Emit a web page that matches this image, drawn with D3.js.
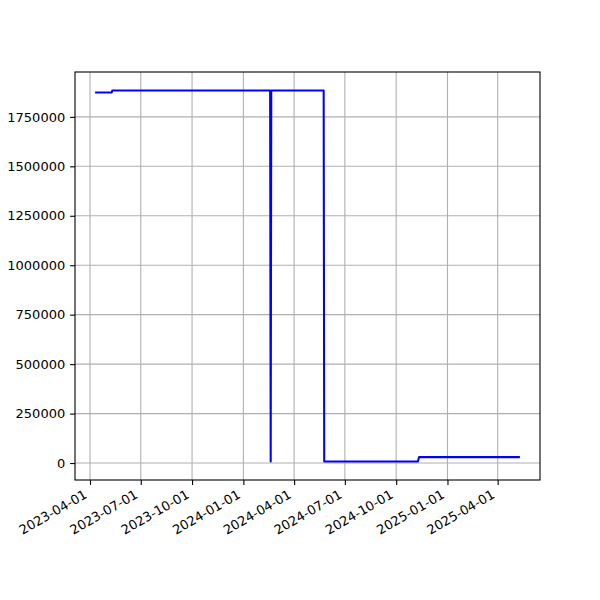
<!DOCTYPE html>
<html><head><meta charset="utf-8">
<script src="https://cdn.jsdelivr.net/npm/d3@7"></script>
<style>body{margin:0;background:#fff}svg{display:block}text{font-family:"DejaVu Sans",sans-serif}</style>
</head><body><svg id="c" width="600" height="600"></svg>
<script>
const dates = ["2023-04-12","2023-05-10","2023-05-11","2024-02-18","2024-02-19","2024-02-20","2024-05-24","2024-05-25","2024-11-09","2024-11-11","2025-05-09"];
const values = [1873000,1873000,1883000,1883000,8000,1883000,1883000,8000,8000,30000,30000];
const xTicks = ["2023-04-01","2023-07-01","2023-10-01","2024-01-01","2024-04-01","2024-07-01","2024-10-01","2025-01-01","2025-04-01"];
const yTicks = [0,250000,500000,750000,1000000,1250000,1500000,1750000];

const parse = d3.utcParse("%Y-%m-%d");
const data = dates.map((d,i)=>({t:parse(d),v:values[i]}));
const L=75,R=540,T=72,B=480;
const FS="13px";
const svg=d3.select("#c");
const tExt=d3.extent(data,d=>d.t), vExt=d3.extent(data,d=>d.v);
const tm=(tExt[1]-tExt[0])*0.05, vm=(vExt[1]-vExt[0])*0.05;
const x=d3.scaleUtc().domain([new Date(+tExt[0]-tm), new Date(+tExt[1]+tm)]).range([L,R]);
const y=d3.scaleLinear().domain([vExt[0]-vm, vExt[1]+vm]).range([B,T]);
const xt=xTicks.map(parse);
// grid
const g=svg.append("g");
g.selectAll(".gx").data(xt).join("line").attr("x1",d=>x(d)).attr("x2",d=>x(d)).attr("y1",T).attr("y2",B).attr("stroke","#b0b0b0").attr("stroke-width",1.1);
g.selectAll(".gy").data(yTicks).join("line").attr("y1",d=>y(d)).attr("y2",d=>y(d)).attr("x1",L).attr("x2",R).attr("stroke","#b0b0b0").attr("stroke-width",1.1);
// line
svg.append("path").datum(data).attr("fill","none").attr("stroke","#0000ff").attr("stroke-width",2.08).attr("stroke-linejoin","round").attr("stroke-linecap","square")
  .attr("d",d3.line().x(d=>x(d.t)).y(d=>y(d.v)));
// frame
svg.append("rect").attr("x",L).attr("y",T).attr("width",R-L).attr("height",B-T).attr("fill","none").attr("stroke","#000").attr("stroke-width",1.1);
// axes
const fmt=d3.utcFormat("%Y-%m-%d");
const xa=svg.append("g").attr("transform",`translate(0,${B})`).call(d3.axisBottom(x).tickValues(xt).tickFormat(fmt).tickSize(4.9).tickPadding(4));
xa.select(".domain").remove();
xa.selectAll("text").attr("font-size",FS).attr("fill","#000").attr("text-anchor","end").attr("dy",null).attr("y",null)
  .attr("transform","translate(-2.5,17.2) rotate(-30)");
const ya=svg.append("g").attr("transform",`translate(${L},0)`).call(d3.axisLeft(y).tickValues(yTicks).tickFormat(d3.format("d")).tickSize(4.9).tickPadding(4.9));
ya.select(".domain").remove();
ya.selectAll("text").attr("font-size",FS).attr("fill","#000");
svg.selectAll(".tick line").attr("stroke","#000").attr("stroke-width",1.1);
</script></body></html>
